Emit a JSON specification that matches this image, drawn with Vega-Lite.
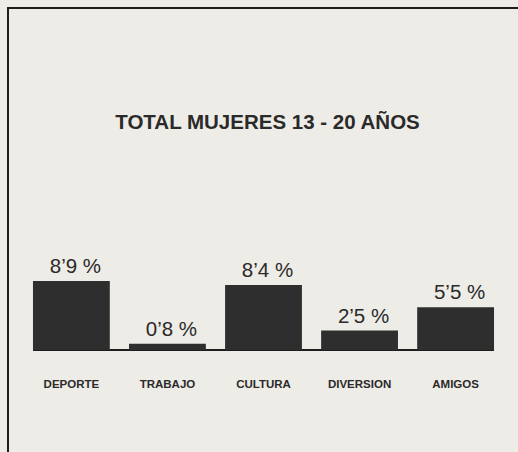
{
  "$schema": "https://vega.github.io/schema/vega-lite/v6.json",
  "autosize": {"type": "none"},
  "padding": {"left": 8, "top": 8, "right": 0, "bottom": 0},
  "width": 511,
  "height": 460,
  "background": "#eeece6",
  "title": {
    "text": "TOTAL MUJERES 13 - 20 AÑOS",
    "font": "Liberation Sans",
    "fontSize": 20.5,
    "fontWeight": "bold",
    "color": "#2a2a2a",
    "anchor": "middle",
    "orient": "top",
    "offset": -141,
    "baseline": "alphabetic",
    "dx": 4
  },
  "config": {
    "view": {"stroke": "#1e1e1e", "strokeWidth": 2, "fill": "#eeece6"},
    "axis": {"disable": true}
  },
  "data": {
    "values": [
      {"categoria": "DEPORTE", "valor": 8.9, "etiqueta": "8’9 %"},
      {"categoria": "TRABAJO", "valor": 0.8, "etiqueta": "0’8 %"},
      {"categoria": "CULTURA", "valor": 8.4, "etiqueta": "8’4 %"},
      {"categoria": "DIVERSION", "valor": 2.5, "etiqueta": "2’5 %"},
      {"categoria": "AMIGOS", "valor": 5.5, "etiqueta": "5’5 %"}
    ]
  },
  "encoding": {
    "x": {
      "field": "categoria",
      "type": "nominal",
      "sort": null,
      "scale": {"domain": ["DEPORTE", "TRABAJO", "CULTURA", "DIVERSION", "AMIGOS"], "paddingInner": 0.2, "paddingOuter": 0.26},
      "axis": null
    }
  },
  "layer": [
    {
      "mark": {"type": "rule", "color": "#1e1e1e", "strokeWidth": 1.5},
      "encoding": {
        "x": {"datum": "DEPORTE", "type": "nominal", "bandPosition": 0},
        "x2": {"datum": "AMIGOS", "bandPosition": 1},
        "y": {"datum": 0, "type": "quantitative"}
      }
    },
    {
      "mark": {"type": "bar", "color": "#2e2e2e"},
      "encoding": {
        "y": {
          "field": "valor",
          "type": "quantitative",
          "scale": {"domain": [-15.23, 44.13], "nice": false, "zero": false},
          "axis": null
        }
      }
    },
    {
      "mark": {"type": "text", "font": "Liberation Sans", "fontSize": 20.5, "color": "#2a2a2a", "baseline": "alphabetic", "dy": -8, "dx": 4},
      "encoding": {
        "y": {"field": "valor", "type": "quantitative"},
        "text": {"field": "etiqueta"}
      }
    },
    {
      "mark": {"type": "text", "font": "Liberation Sans", "fontSize": 11.5, "fontWeight": "bold", "color": "#2a2a2a", "baseline": "alphabetic"},
      "encoding": {
        "y": {"datum": -4.9, "type": "quantitative"},
        "text": {"field": "categoria"}
      }
    }
  ]
}
